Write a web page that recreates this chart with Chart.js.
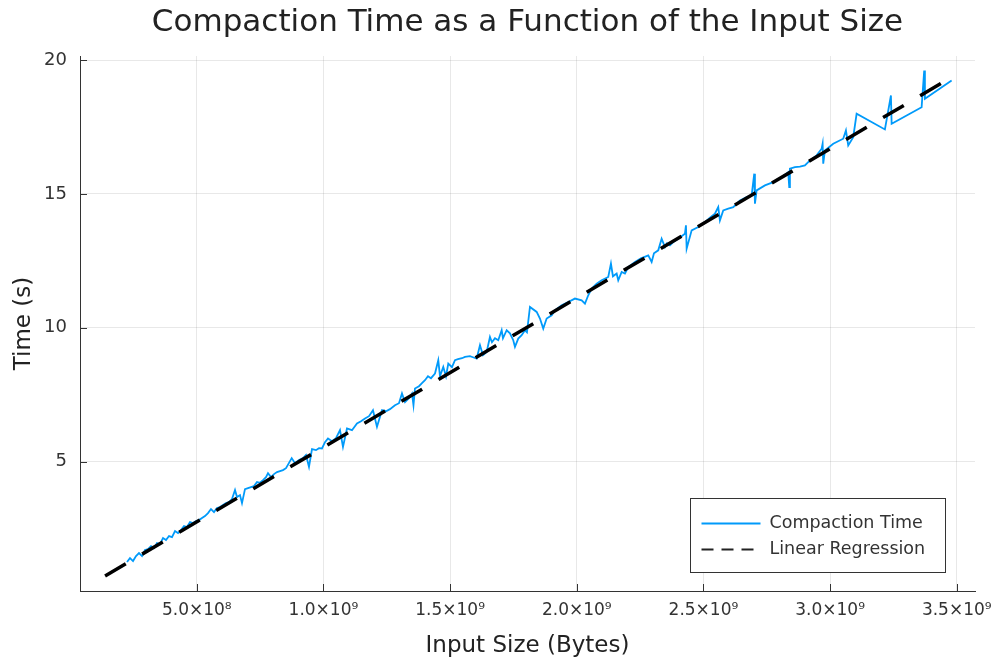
<!DOCTYPE html>
<html><head><meta charset="utf-8">
<script src="https://cdn.jsdelivr.net/npm/chart.js@4.4.0/dist/chart.umd.min.js"></script>
<style>html,body{margin:0;padding:0;background:#fff;}#wrap{width:993px;height:664px;}</style>
</head><body><div id="wrap"><canvas id="c" width="993" height="664"></canvas></div>
<script>
const chartTitle = 'Compaction Time as a Function of the Input Size';
const seriesNames = ['Compaction Time', 'Linear Regression'];
const inputSizeBytes = [
 2.246e8,2.364e8,2.483e8,2.601e8,2.719e8,2.838e8,2.956e8,3.075e8,3.193e8,3.312e8,
 3.430e8,3.548e8,3.667e8,3.785e8,3.904e8,4.022e8,4.140e8,4.259e8,4.377e8,4.496e8,
 4.614e8,4.732e8,4.851e8,4.969e8,5.088e8,5.206e8,5.324e8,5.443e8,5.561e8,5.680e8,
 5.798e8,5.917e8,6.035e8,6.153e8,6.272e8,6.390e8,6.509e8,6.588e8,6.706e8,6.785e8,
 6.903e8,7.022e8,7.140e8,7.259e8,7.377e8,7.495e8,7.614e8,7.732e8,7.811e8,7.930e8,
 8.048e8,8.166e8,8.285e8,8.403e8,8.522e8,8.747e8,8.877e8,9.035e8,9.193e8,9.311e8,
 9.429e8,9.548e8,9.706e8,9.824e8,9.942e8,10.061e8,10.179e8,10.337e8,10.495e8,10.653e8,
 10.771e8,10.929e8,11.127e8,11.324e8,11.482e8,11.640e8,11.798e8,11.955e8,12.113e8,12.311e8,
 12.469e8,12.626e8,12.824e8,12.982e8,13.100e8,13.219e8,13.376e8,13.495e8,13.554e8,13.613e8,
 13.771e8,13.889e8,14.008e8,14.126e8,14.245e8,14.403e8,14.533e8,14.600e8,14.730e8,14.837e8,
 14.928e8,15.074e8,15.192e8,15.310e8,15.468e8,15.587e8,15.784e8,15.902e8,16.049e8,16.179e8,
 16.297e8,16.443e8,16.573e8,16.652e8,16.771e8,16.901e8,17.035e8,17.087e8,17.233e8,17.363e8,
 17.493e8,17.560e8,17.690e8,17.825e8,17.955e8,18.034e8,18.152e8,18.417e8,18.547e8,18.677e8,
 18.811e8,19.009e8,19.139e8,19.403e8,19.664e8,19.928e8,20.193e8,20.323e8,20.453e8,20.588e8,
 20.785e8,20.982e8,21.243e8,21.349e8,21.428e8,21.574e8,21.637e8,21.772e8,21.902e8,22.032e8,
 22.297e8,22.533e8,22.822e8,22.956e8,23.047e8,23.216e8,23.350e8,23.481e8,23.560e8,23.678e8,
 23.808e8,24.005e8,24.270e8,24.310e8,24.337e8,24.535e8,24.795e8,25.059e8,25.257e8,25.454e8,
 25.584e8,25.651e8,25.782e8,25.979e8,26.177e8,26.441e8,26.705e8,26.903e8,27.006e8,27.033e8,
 27.100e8,27.428e8,27.755e8,28.087e8,28.347e8,28.387e8,28.414e8,28.612e8,28.809e8,29.006e8,
 29.204e8,29.468e8,29.666e8,29.705e8,29.729e8,29.796e8,30.124e8,30.518e8,30.625e8,30.716e8,
 30.913e8,31.047e8,32.164e8,32.401e8,32.429e8,33.613e8,33.715e8,33.743e8,34.797e8
];
const compactionTime = [
 1.250,1.399,1.287,1.474,1.586,1.474,1.698,1.735,1.847,1.772,
 1.959,1.922,2.146,2.071,2.220,2.183,2.407,2.332,2.444,2.593,
 2.556,2.743,2.705,2.780,2.817,2.892,2.966,3.078,3.228,3.116,
 3.265,3.302,3.377,3.451,3.489,3.601,3.937,3.675,3.750,3.451,
 3.974,4.011,4.049,4.086,4.235,4.210,4.310,4.422,4.571,4.422,
 4.534,4.608,4.646,4.683,4.757,5.131,4.944,5.056,5.131,5.243,
 4.806,5.466,5.429,5.504,5.493,5.728,5.866,5.765,5.877,6.175,
 5.552,6.239,6.175,6.425,6.511,6.612,6.698,6.922,6.299,6.922,
 6.884,6.959,7.108,7.183,7.545,7.220,7.369,7.545,7.108,7.731,
 7.817,7.929,8.041,8.190,8.116,8.291,8.787,8.190,8.537,8.190,
 8.664,8.526,8.787,8.825,8.862,8.910,8.937,8.899,8.851,9.347,
 8.974,9.097,9.657,9.459,9.608,9.534,9.907,9.608,9.907,9.795,
 9.534,9.284,9.597,9.720,9.907,9.832,10.776,10.590,10.343,9.970,
 10.343,10.466,10.653,10.840,10.963,11.090,11.026,10.903,11.213,11.463,
 11.649,11.772,11.896,12.396,11.922,12.022,11.772,12.082,12.022,12.269,
 12.455,12.593,12.705,12.455,12.780,12.892,13.328,13.015,13.153,13.078,
 13.201,13.328,13.515,13.825,12.955,13.638,13.761,13.948,14.112,14.261,
 14.507,14.011,14.384,14.448,14.507,14.757,14.881,14.944,15.754,14.634,
 15.131,15.317,15.440,15.627,15.813,15.254,15.940,16.000,16.020,16.063,
 16.250,16.437,16.687,16.873,16.127,16.623,16.873,17.060,17.369,16.810,
 17.119,17.993,17.407,18.675,17.619,18.239,19.608,18.552,19.235
];
const regressionX = [1.38e8, 3.480e9];
const regressionY = [0.73, 19.36];
const xTickValues = [5e8, 1e9, 1.5e9, 2e9, 2.5e9, 3e9, 3.5e9];
const xTickLabels = ['5.0×10⁸','1.0×10⁹','1.5×10⁹','2.0×10⁹','2.5×10⁹','3.0×10⁹','3.5×10⁹'];
const yTickValues = [5, 10, 15, 20];
const yTickLabels = ['5', '10', '15', '20'];

const FONT = 'DejaVu Sans';
Chart.defaults.font.family = FONT;

const blueData = inputSizeBytes.map((v, i) => ({x: v, y: compactionTime[i]}));
const regData = regressionX.map((v, i) => ({x: v, y: regressionY[i]}));

const extras = {
  id: 'extras',
  afterDraw(chart) {
    const {ctx, chartArea: a, scales: {x, y}} = chart;
    ctx.save();
    // title centred over the plot area
    ctx.fillStyle = '#222'; ctx.font = '31px ' + FONT; ctx.textAlign = 'center'; ctx.textBaseline = 'middle';
    ctx.fillText(chartTitle, (a.left + a.right) / 2, 23);
    // inward tick marks
    ctx.strokeStyle = '#333'; ctx.lineWidth = 1;
    ctx.beginPath();
    xTickValues.forEach(v => { const p = Math.round(x.getPixelForValue(v)) + 0.5; ctx.moveTo(p, a.bottom); ctx.lineTo(p, a.bottom - 7); });
    yTickValues.forEach(v => { const p = Math.round(y.getPixelForValue(v)) + 0.5; ctx.moveTo(a.left, p); ctx.lineTo(a.left + 7, p); });
    ctx.stroke();
    // legend
    const bx = a.right - 284.5, by = a.bottom - 92.5, bw = 255, bh = 74;
    ctx.fillStyle = '#fff';
    ctx.fillRect(bx, by, bw, bh);
    ctx.strokeStyle = '#333'; ctx.lineWidth = 1;
    ctx.strokeRect(bx, by, bw, bh);
    const l1 = by + 25, l2 = by + 51;
    ctx.strokeStyle = '#009AFA'; ctx.lineWidth = 1.8;
    ctx.beginPath(); ctx.moveTo(bx + 11, l1); ctx.lineTo(bx + 70, l1); ctx.stroke();
    ctx.strokeStyle = '#222'; ctx.lineWidth = 2; ctx.setLineDash([12, 8]);
    ctx.beginPath(); ctx.moveTo(bx + 11, l2); ctx.lineTo(bx + 70, l2); ctx.stroke();
    ctx.setLineDash([]);
    ctx.fillStyle = '#333'; ctx.font = '17.5px ' + FONT; ctx.textBaseline = 'middle'; ctx.textAlign = 'left';
    ctx.fillText(seriesNames[0], bx + 79, l1);
    ctx.fillText(seriesNames[1], bx + 79, l2);
    ctx.restore();
  }
};

new Chart(document.getElementById('c'), {
  type: 'scatter',
  data: {
    datasets: [
      {label: seriesNames[0], data: blueData, showLine: true, borderColor: '#009AFA', borderWidth: 1.8, pointRadius: 0, pointHoverRadius: 0, order: 2, tension: 0},
      {label: seriesNames[1], data: regData, showLine: true, borderColor: '#000', borderWidth: 3.5, borderDash: [24, 19], pointRadius: 0, pointHoverRadius: 0, order: 1}
    ]
  },
  options: {
    responsive: false, animation: false, devicePixelRatio: 1,
    layout: {padding: {left: 0, right: 18, top: 56, bottom: 0}},
    plugins: {
      legend: {display: false}, tooltip: {enabled: false}, title: {display: false}
    },
    scales: {
      x: {
        type: 'linear', min: 3.9e7, max: 3.572e9,
        afterBuildTicks: s => { s.ticks = xTickValues.map(v => ({value: v})); },
        afterFit: s => { s.height = 73; s.paddingLeft = 0; s.paddingRight = 0; },
        ticks: {callback: v => xTickLabels[xTickValues.indexOf(v)], color: '#333', font: {size: 17}, padding: 9, maxRotation: 0, autoSkip: false},
        grid: {color: 'rgba(0,0,0,0.09)', drawTicks: false, tickLength: 0},
        border: {display: true, color: '#333', width: 1},
        title: {display: true, text: 'Input Size (Bytes)', color: '#222', font: {size: 23}, padding: {top: 0, bottom: 4.2}}
      },
      y: {
        type: 'linear', min: 0.168, max: 20.15,
        afterBuildTicks: s => { s.ticks = yTickValues.map(v => ({value: v})); },
        afterFit: s => { s.width = 80; s.paddingTop = 0; s.paddingBottom = 0; },
        ticks: {callback: v => yTickLabels[yTickValues.indexOf(v)], color: '#333', font: {size: 18}, padding: 13, autoSkip: false},
        grid: {color: 'rgba(0,0,0,0.09)', drawTicks: false, tickLength: 0},
        border: {display: true, color: '#333', width: 1},
        title: {display: true, text: 'Time (s)', color: '#222', font: {size: 23}, padding: {top: 10, bottom: 0}}
      }
    }
  },
  plugins: [extras]
});
</script></body></html>
